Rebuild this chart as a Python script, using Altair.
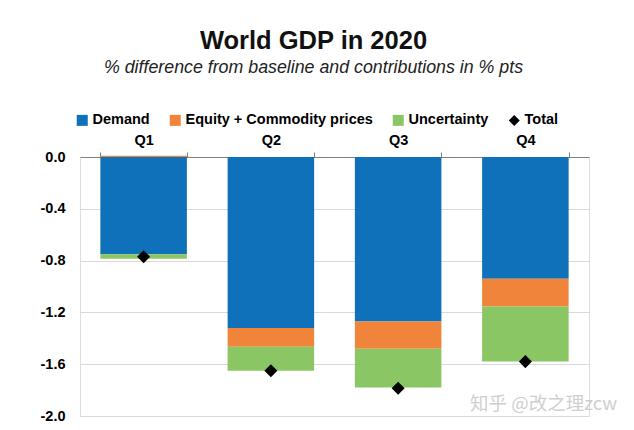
import altair as alt
import pandas as pd

quarters = ["Q1", "Q2", "Q3", "Q4"]
demand = [-0.75, -1.32, -1.27, -0.94]
equity = [0.01, -0.145, -0.21, -0.215]
uncertainty = [-0.035, -0.185, -0.30, -0.425]
total = [-0.77, -1.65, -1.785, -1.58]

series_names = ["Demand", "Equity + Commodity prices", "Uncertainty", "Total"]
series_colors = ["#0f71b9", "#f0843a", "#8bc664", "#000000"]
series_shapes = ["square", "square", "square", "diamond"]
y_ticks = [0.0, -0.4, -0.8, -1.2, -1.6, -2.0]

rows = []
for i, q in enumerate(quarters):
    for k, (name, vals) in enumerate(zip(series_names[:3], [demand, equity, uncertainty])):
        rows.append({"quarter": q, "series": name, "value": vals[i], "order": k})
bars_df = pd.DataFrame(rows)
total_df = pd.DataFrame({"quarter": quarters, "series": "Total", "value": total})

FONT = "Liberation Sans"

x_enc = alt.X(
    "quarter:N",
    sort=quarters,
    scale=alt.Scale(paddingInner=0.32, paddingOuter=0.16),
    axis=alt.Axis(
        orient="top", title=None, labelAngle=0, tickBand="extent",
        domainColor="#808080", tickColor="#808080", tickSize=5,
        labelFont=FONT, labelFontSize=14.5, labelFontWeight="bold",
        labelColor="#000000", labelPadding=5, grid=False,
    ),
)
y_scale = alt.Scale(domain=[-2.0, 0.0], nice=False, zero=False)
color_scale = alt.Scale(domain=series_names, range=series_colors)
shape_scale = alt.Scale(domain=series_names, range=series_shapes)

legend = alt.Legend(
    title=None, orient="none", direction="horizontal", legendX=-5, legendY=-44,
    labelFont=FONT, labelFontSize=14.5, labelFontWeight="bold", labelColor="#000000",
    labelLimit=0, symbolSize=121, columnPadding=18, labelOffset=3,
    symbolStrokeWidth=0,
)

bars = alt.Chart(bars_df).mark_bar().encode(
    x=x_enc,
    y=alt.Y(
        "value:Q", stack="zero", scale=y_scale,
        axis=alt.Axis(
            title=None, values=y_ticks, domain=False, ticks=False,
            labelExpr="(datum.value < 0 ? '-' : '') + format(abs(datum.value), '.1f')",
            labelFont=FONT, labelFontSize=14.5, labelFontWeight="bold",
            labelColor="#000000", labelPadding=15,
            gridColor="#d9d9d9", gridWidth=1,
        ),
    ),
    color=alt.Color("series:N", scale=color_scale, legend=legend),
    order=alt.Order("order:Q", sort="ascending"),
)

points = alt.Chart(total_df).mark_point(filled=True, size=170, opacity=1).encode(
    x=alt.X("quarter:N", sort=quarters),
    y=alt.Y("value:Q", scale=y_scale),
    color=alt.Color("series:N", scale=color_scale, legend=legend),
    shape=alt.Shape("series:N", scale=shape_scale, legend=legend),
)

watermark = alt.Chart(pd.DataFrame({"t": ["知乎 @改之理zcw"]})).mark_text(
    align="left", baseline="middle", font="Noto Sans CJK SC", fontSize=18.5,
    color="#cfcfcf",
).encode(x=alt.value(390), y=alt.value(247), text="t:N")

chart = alt.layer(bars, points, watermark).properties(
    width=509, height=259,
    autosize=alt.AutoSizeParams(type="none"),
    padding={"left": 72, "top": 149, "right": 30, "bottom": 6},
    title=alt.TitleParams(
        text="World GDP in 2020",
        subtitle="% difference from baseline and contributions in % pts",
        anchor="middle", frame="group", dx=-21,
        font=FONT, fontSize=25.5, fontWeight="bold", color="#111111",
        subtitleFont=FONT, subtitleFontSize=17.8, subtitleFontStyle="italic",
        subtitleColor="#222222", subtitlePadding=5, offset=36,
    ),
).configure_view(stroke=None).configure(background="#ffffff")

chart.save("out.html", embed_options={"renderer": "svg", "actions": False})
